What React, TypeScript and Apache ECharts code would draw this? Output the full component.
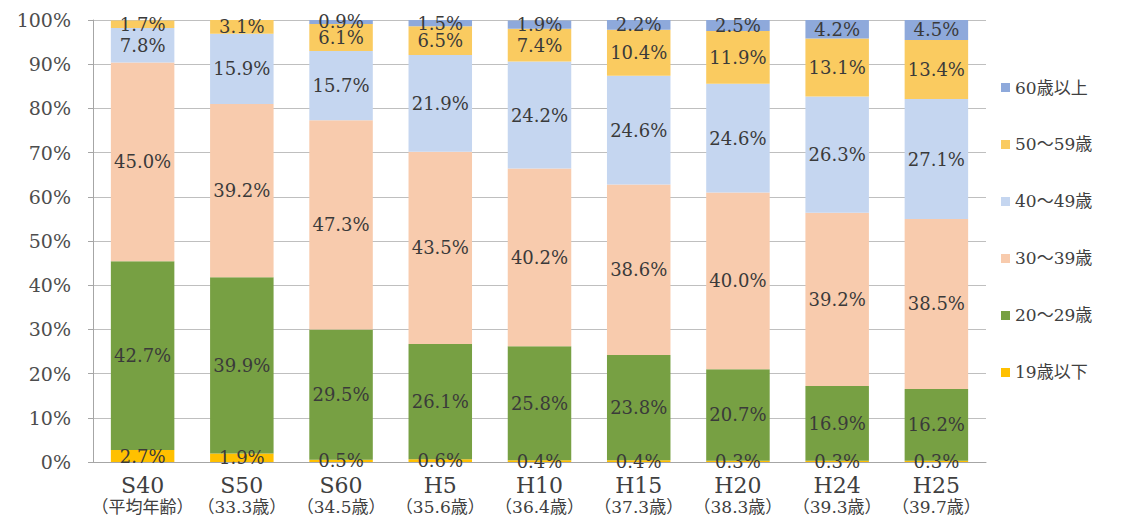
import React, { useEffect, useRef } from "react";
import * as echarts from "echarts";

const periods = ["S40", "S50", "S60", "H5", "H10", "H15", "H20", "H24", "H25"];
const avgAges = ["（平均年齢）", "（33.3歳）", "（34.5歳）", "（35.6歳）", "（36.4歳）", "（37.3歳）", "（38.3歳）", "（39.3歳）", "（39.7歳）"];

const seriesNames = ["19歳以下", "20～29歳", "30～39歳", "40～49歳", "50～59歳", "60歳以上"];
const age19 = [2.7, 1.9, 0.5, 0.6, 0.4, 0.4, 0.3, 0.3, 0.3];
const age20s = [42.7, 39.9, 29.5, 26.1, 25.8, 23.8, 20.7, 16.9, 16.2];
const age30s = [45.0, 39.2, 47.3, 43.5, 40.2, 38.6, 40.0, 39.2, 38.5];
const age40s = [7.8, 15.9, 15.7, 21.9, 24.2, 24.6, 24.6, 26.3, 27.1];
const age50s = [1.7, 3.1, 6.1, 6.5, 7.4, 10.4, 11.9, 13.1, 13.4];
const age60 = [null, null, 0.9, 1.5, 1.9, 2.2, 2.5, 4.2, 4.5];

const seriesValues = [age19, age20s, age30s, age40s, age50s, age60];
const colors = ["#FFC000", "#77A043", "#F8CBAD", "#C5D6F0", "#FACB60", "#8EA9DB"];

const serif = "'DejaVu Serif', 'Liberation Serif', 'Noto Sans CJK JP', serif";

export default function App() {
  const ref = useRef<HTMLDivElement>(null);
  useEffect(() => {
    if (!ref.current) return;
    const chart = echarts.init(ref.current, null, { renderer: "svg" });
    const categories = periods.map((p, i) => p + "\n" + avgAges[i]);
    chart.setOption({
      animation: false,
      backgroundColor: "#ffffff",
      grid: { left: 93, right: 137, top: 20, bottom: 67 },
      legend: {
        orient: "vertical",
        left: 996,
        top: 74,
        itemWidth: 9,
        itemHeight: 9,
        itemGap: 40,
        icon: "rect",
        data: seriesNames.slice().reverse(),
        textStyle: { fontFamily: serif, fontSize: 17, color: "#404040" },
      },
      xAxis: {
        type: "category",
        data: categories,
        axisLine: { lineStyle: { color: "#a6a6a6" } },
        axisTick: { show: false },
        axisLabel: {
          interval: 0,
          margin: 13,
          formatter: (v: string) => {
            const [a, b] = v.split("\n");
            return "{a|" + a + "}\n{b|" + b + "}";
          },
          rich: {
            a: { fontFamily: serif, fontSize: 22, color: "#404040", lineHeight: 21 },
            b: { fontFamily: serif, fontSize: 17, color: "#404040", lineHeight: 21 },
          },
        },
      },
      yAxis: {
        type: "value",
        min: 0,
        max: 100,
        interval: 10,
        axisLine: { show: true, lineStyle: { color: "#a6a6a6" } },
        axisTick: { show: true, length: 5, lineStyle: { color: "#a6a6a6" } },
        splitLine: { lineStyle: { color: "#bfbfbf" } },
        axisLabel: {
          formatter: "{value}%",
          fontFamily: serif,
          fontSize: 19,
          color: "#4d4d4d",
          margin: 22,
        },
      },
      series: seriesNames.map((name, i) => ({
        name,
        type: "bar",
        stack: "total",
        barWidth: "64%",
        data: seriesValues[i],
        itemStyle: { color: colors[i] },
        label: {
          show: true,
          position: "inside",
          formatter: (p: any) => (p.value == null ? "" : Number(p.value).toFixed(1) + "%"),
          fontFamily: serif,
          fontSize: 18,
          color: "#3a3a3a",
        },
        labelLayout: { hideOverlap: false },
      })),
    });
    return () => chart.dispose();
  }, []);
  return <div ref={ref} style={{ width: 1123, height: 529, margin: -8 }} />;
}
